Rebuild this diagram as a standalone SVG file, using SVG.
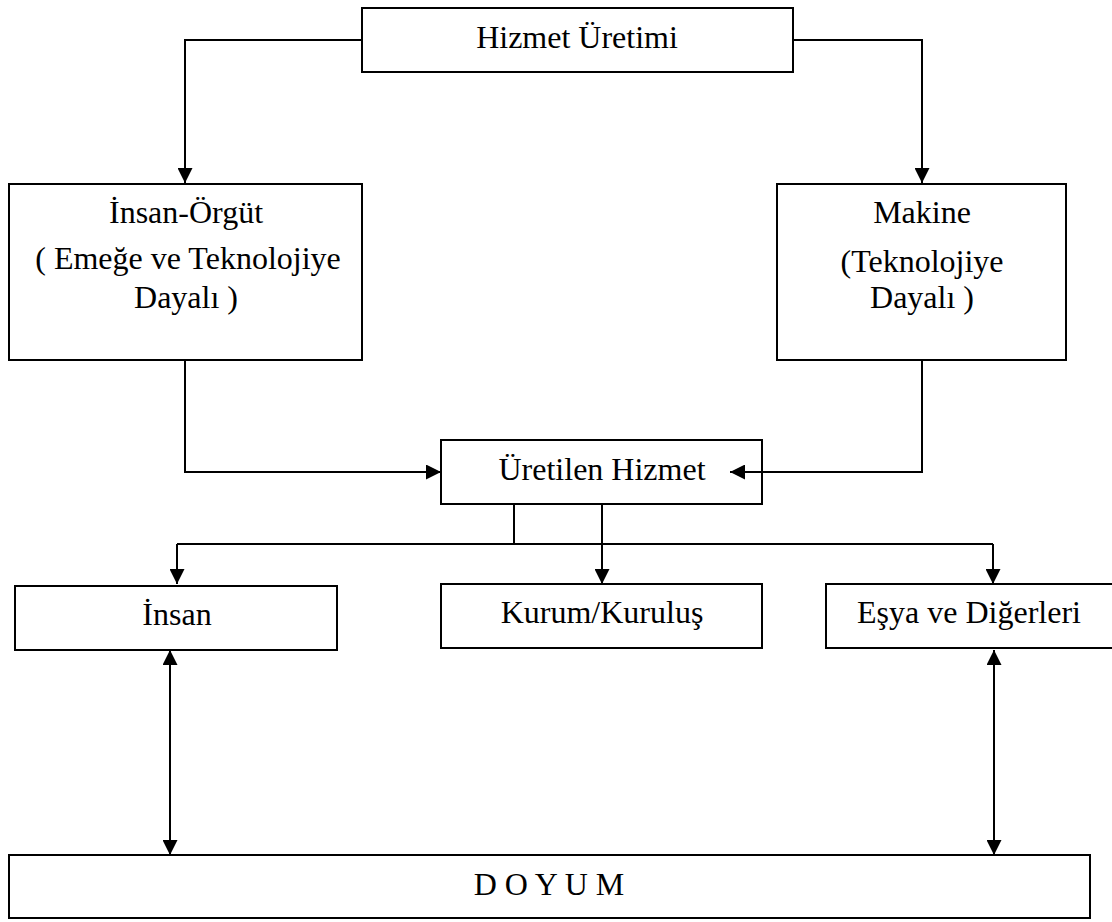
<svg xmlns="http://www.w3.org/2000/svg" width="1112" height="922" viewBox="0 0 1112 922">
<style>
.box{fill:#fff;stroke:#000;stroke-width:2}
.t{font-family:"Liberation Serif","Times New Roman",serif;font-size:32px;fill:#000;text-anchor:middle}
.c{fill:none;stroke:#000;stroke-width:2}
</style>
<defs>
<marker id="ah" viewBox="0 0 10 10" refX="10" refY="5" markerWidth="15" markerHeight="15" markerUnits="userSpaceOnUse" orient="auto-start-reverse">
<path d="M0,0 L10,5 L0,10 z" fill="#000"/>
</marker>
</defs>
<rect width="1112" height="922" fill="#fff"/>
<g id="hizmet-uretimi">
<rect class="box" x="362" y="8" width="431" height="64"/>
<text class="t" x="577" y="48">Hizmet Üretimi</text>
</g>
<g id="insan-orgut">
<rect class="box" x="9" y="184" width="353" height="176"/>
<text class="t" x="186" y="223">İnsan-Örgüt</text>
<text class="t" x="188" y="269">( Emeğe ve Teknolojiye</text>
<text class="t" x="186" y="308">Dayalı )</text>
</g>
<g id="makine">
<rect class="box" x="777" y="184" width="289" height="176"/>
<text class="t" x="922" y="223">Makine</text>
<text class="t" x="922" y="272">(Teknolojiye</text>
<text class="t" x="922" y="308">Dayalı )</text>
</g>
<g id="uretilen-hizmet">
<rect class="box" x="441" y="440" width="321" height="64"/>
<text class="t" x="602" y="480">Üretilen Hizmet</text>
</g>
<g id="insan">
<rect class="box" x="15" y="586" width="322" height="64"/>
<text class="t" x="177" y="625">İnsan</text>
</g>
<g id="kurum">
<rect class="box" x="441" y="584" width="321" height="64"/>
<text class="t" x="602" y="623">Kurum/Kuruluş</text>
</g>
<g id="esya">
<rect class="box" x="826" y="584" width="290" height="64"/>
<text class="t" x="969" y="623">Eşya ve Diğerleri</text>
</g>
<g id="doyum">
<rect class="box" x="9" y="855" width="1081" height="63"/>
<text class="t" x="549" y="895">D O Y U M</text>
</g>
<g id="connectors">
<path class="c" d="M362,40 H185 V183" marker-end="url(#ah)"/>
<path class="c" d="M793,40 H922 V183" marker-end="url(#ah)"/>
<path class="c" d="M185,360 V472 H441" marker-end="url(#ah)"/>
<path class="c" d="M922,360 V472 H730" marker-end="url(#ah)"/>
<path class="c" d="M514,504 V544"/>
<path class="c" d="M177,544 H993"/>
<path class="c" d="M177,544 V584" marker-end="url(#ah)"/>
<path class="c" d="M993,544 V584" marker-end="url(#ah)"/>
<path class="c" d="M602,504 V584" marker-end="url(#ah)"/>
<path class="c" d="M170,650 V855" marker-start="url(#ah)" marker-end="url(#ah)"/>
<path class="c" d="M994,650 V855" marker-start="url(#ah)" marker-end="url(#ah)"/>
</g>
</svg>
